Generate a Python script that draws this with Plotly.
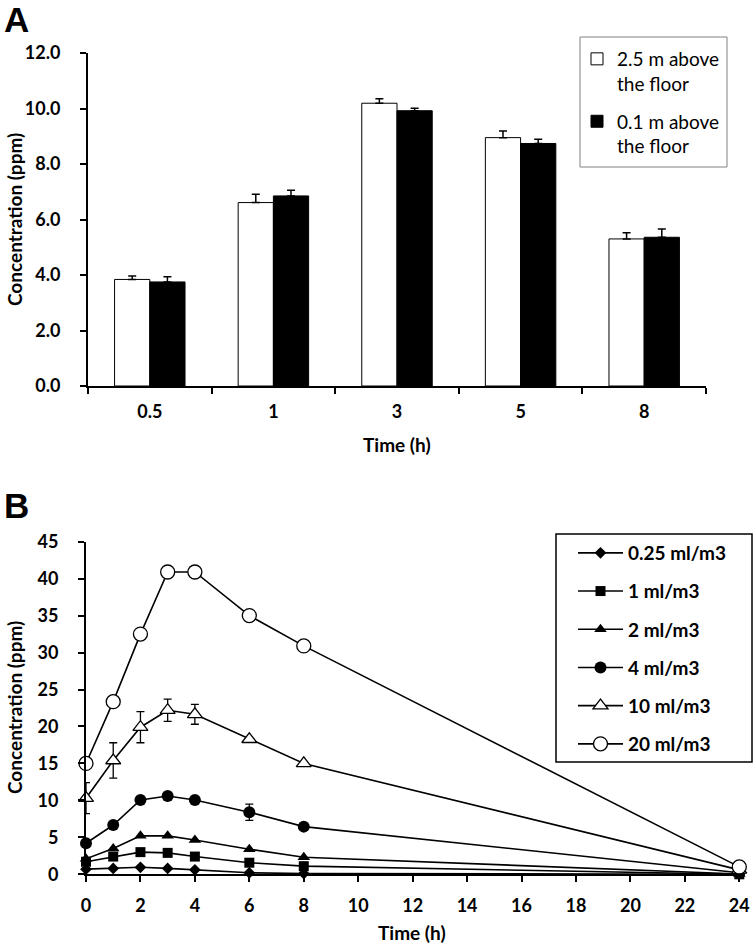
import plotly.graph_objects as go

# ---- panel A data ----
times_a = ["0.5", "1", "3", "5", "8"]
high_vals = [3.84, 6.61, 10.19, 8.95, 5.30]
high_err = [0.12, 0.30, 0.16, 0.24, 0.22]
low_vals = [3.75, 6.85, 9.92, 8.74, 5.36]
low_err = [0.19, 0.20, 0.09, 0.15, 0.30]

# ---- panel B data ----
times_b = [0, 1, 2, 3, 4, 6, 8, 24]
c_025 = [0.7, 0.8, 0.95, 0.8, 0.6, 0.2, 0.1, 0.0]
c_1 = [1.7, 2.4, 3.0, 2.9, 2.4, 1.57, 1.1, 0.0]
c_2 = [2.1, 3.5, 5.2, 5.2, 4.65, 3.4, 2.3, 0.05]
c_4 = [4.2, 6.67, 10.05, 10.6, 10.05, 8.4, 6.45, 0.2]
c_4_err = [0, 0, 0, 0, 0, 1.1, 0, 0]
c_10 = [10.3, 15.4, 19.9, 22.2, 21.65, 18.27, 15.0, 0.6]
c_10_err = [2.1, 2.4, 2.1, 1.5, 1.35, 0, 0, 0]
c_20 = [15.0, 23.36, 32.5, 40.9, 40.9, 35.0, 30.9, 1.0]

W, H = 756, 946
FONT = "Lato"


def fx(px):
    return px / W


def fy(py):
    return 1 - py / H


fig = go.Figure()

fig.add_trace(go.Bar(x=times_a, y=high_vals, name="2.5 m above<br>the floor",
                     marker=dict(color="white", line=dict(color="black", width=1)),
                     error_y=dict(type="data", array=high_err, arrayminus=[0] * 5, symmetric=False,
                                  color="black", thickness=1.5, width=4),
                     xaxis="x", yaxis="y", legend="legend", legendgroup="a1"))
fig.add_trace(go.Bar(x=times_a, y=low_vals, name="0.1 m above<br>the floor",
                     marker=dict(color="black", line=dict(color="black", width=1)),
                     error_y=dict(type="data", array=low_err, arrayminus=[0] * 5, symmetric=False,
                                  color="black", thickness=1.5, width=4),
                     xaxis="x", yaxis="y", legend="legend", legendgroup="a2"))

series_b = [
    ("0.25 ml/m3", c_025, None, dict(symbol="diamond", size=9, color="black")),
    ("1 ml/m3", c_1, None, dict(symbol="square", size=10, color="black")),
    ("2 ml/m3", c_2, None, dict(symbol="triangle-up", size=11, color="black")),
    ("4 ml/m3", c_4, c_4_err, dict(symbol="circle", size=12, color="black")),
    ("10 ml/m3", c_10, c_10_err, dict(symbol="triangle-up", size=13, color="white",
                                      line=dict(color="black", width=1.3))),
    ("20 ml/m3", c_20, None, dict(symbol="circle", size=14, color="white",
                                  line=dict(color="black", width=1.3))),
]
for name, vals, err, mk in series_b:
    eb = dict(visible=False)
    if err is not None:
        eb = dict(type="data", array=err, color="black", thickness=1.3, width=4)
    fig.add_trace(go.Scatter(x=times_b, y=vals, name=name, mode="lines+markers",
                             line=dict(color="black", width=1.6), marker=mk, error_y=eb,
                             cliponaxis=False, xaxis="x2", yaxis="y2",
                             legend="legend2", legendgroup=name))

tickfont = dict(family=FONT, size=18, color="black", weight="bold")
axis_common = dict(showline=True, linecolor="black", linewidth=2, ticks="outside",
                   ticklen=6, tickwidth=1.5, tickcolor="black", showgrid=False,
                   zeroline=False, tickfont=tickfont, automargin=False)

fig.update_layout(
    template="none",
    width=W, height=H, margin=dict(l=0, r=0, t=0, b=0, autoexpand=False),
    plot_bgcolor="white", paper_bgcolor="white",
    barmode="group", bargap=0.43, bargroupgap=0,
    xaxis=dict(domain=[fx(88), fx(706)], anchor="y", type="category",
               tickson="boundaries", range=[-0.5, 4.5], ticklabelstandoff=8,
               **axis_common),
    yaxis=dict(domain=[fy(386), fy(53)], anchor="x", range=[0, 12],
               dtick=2, tickformat=".1f", ticklabelstandoff=16, **axis_common),
    xaxis2=dict(domain=[fx(86), fx(739.3)], anchor="y2", range=[0, 24], dtick=2,
                ticklabelstandoff=8, **axis_common),
    yaxis2=dict(domain=[fy(874.3), fy(541.7)], anchor="x2", range=[0, 45],
                dtick=5, ticklabelstandoff=16, **axis_common),
    legend=dict(x=fx(577), y=fy(40), xanchor="left", yanchor="top",
                borderwidth=0, bgcolor="rgba(0,0,0,0)",
                font=dict(family=FONT, size=19, color="black"), valign="top",
                tracegroupgap=10),
    legend2=dict(x=fx(573), y=fy(534), xanchor="left", yanchor="top",
                 borderwidth=0, bgcolor="rgba(0,0,0,0)",
                 font=dict(family=FONT, size=19, color="black", weight="bold"),
                 tracegroupgap=10.5, itemwidth=45),
    showlegend=True,
)

# legend frames
fig.add_shape(type="rect", xref="paper", yref="paper", x0=fx(580), x1=fx(727),
              y0=fy(167), y1=fy(37), line=dict(color="#808080", width=1), layer="below")
fig.add_shape(type="rect", xref="paper", yref="paper", x0=fx(556), x1=fx(752),
              y0=fy(762), y1=fy(534), line=dict(color="black", width=1.5), layer="below")

title_font = dict(family=FONT, size=19, color="black", weight="bold")
annos = [
    dict(text="A", x=fx(2), y=fy(19), xanchor="left", yanchor="middle",
         font=dict(family="Liberation Sans", size=35, color="black", weight="bold")),
    dict(text="B", x=fx(2), y=fy(506), xanchor="left", yanchor="middle",
         font=dict(family="Liberation Sans", size=35, color="black", weight="bold")),
    dict(text="Time (h)", x=fx(397), y=fy(444), xanchor="center", yanchor="middle",
         font=title_font),
    dict(text="Time (h)", x=fx(412.5), y=fy(932), xanchor="center", yanchor="middle",
         font=title_font),
    dict(text="Concentration (ppm)", x=fx(15), y=fy(220), textangle=-90,
         xanchor="center", yanchor="middle", font=title_font),
    dict(text="Concentration (ppm)", x=fx(14), y=fy(708), textangle=-90,
         xanchor="center", yanchor="middle", font=title_font),
]
for a in annos:
    fig.add_annotation(xref="paper", yref="paper", showarrow=False, **a)

# drop the default 8px page margin so the figure fills the window from its corner
fig.write_html("out.html", config={"displayModeBar": False},
               post_script="document.body.style.margin='0px';")
